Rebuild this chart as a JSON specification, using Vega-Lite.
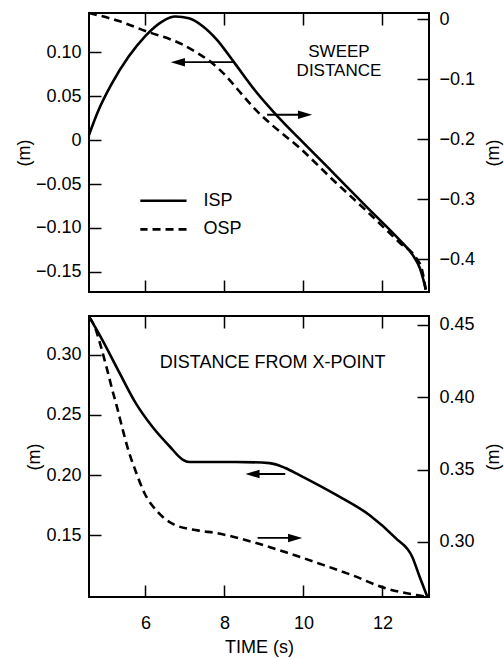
{
  "$schema": "https://vega.github.io/schema/vega-lite/v6.json",
  "background": "white",
  "padding": {"left": 14, "top": 6, "right": 4, "bottom": 1},
  "config": {
    "font": "Liberation Sans",
    "view": {"stroke": "black", "strokeWidth": 2},
    "axis": {
      "domain": false, "grid": false,
      "tickColor": "black", "tickWidth": 1.5, "tickSize": -12,
      "labelFont": "Liberation Sans", "labelFontSize": 18, "labelColor": "black",
      "titleFont": "Liberation Sans", "titleFontSize": 18, "titleFontWeight": "normal", "titleColor": "black"
    }
  },
  "datasets": {
    "top_isp": [
      {"series": "ISP", "t": 4.57, "v": 0.006}, {"series": "ISP", "t": 4.80, "v": 0.033}, {"series": "ISP", "t": 5.13, "v": 0.063},
      {"series": "ISP", "t": 5.57, "v": 0.095}, {"series": "ISP", "t": 6.00, "v": 0.119}, {"series": "ISP", "t": 6.41, "v": 0.135},
      {"series": "ISP", "t": 6.76, "v": 0.141}, {"series": "ISP", "t": 7.10, "v": 0.139}, {"series": "ISP", "t": 7.45, "v": 0.130},
      {"series": "ISP", "t": 7.80, "v": 0.115}, {"series": "ISP", "t": 8.24, "v": 0.089}, {"series": "ISP", "t": 8.77, "v": 0.057},
      {"series": "ISP", "t": 9.31, "v": 0.029}, {"series": "ISP", "t": 9.89, "v": 0.002}, {"series": "ISP", "t": 10.73, "v": -0.036},
      {"series": "ISP", "t": 11.60, "v": -0.076}, {"series": "ISP", "t": 12.44, "v": -0.114}, {"series": "ISP", "t": 12.77, "v": -0.131},
      {"series": "ISP", "t": 12.95, "v": -0.146}, {"series": "ISP", "t": 13.10, "v": -0.170}
    ],
    "top_osp": [
      {"series": "OSP", "t": 4.57, "v": 0.010}, {"series": "OSP", "t": 5.31, "v": -0.003}, {"series": "OSP", "t": 6.00, "v": -0.020},
      {"series": "OSP", "t": 6.92, "v": -0.042}, {"series": "OSP", "t": 7.35, "v": -0.058}, {"series": "OSP", "t": 7.68, "v": -0.073},
      {"series": "OSP", "t": 8.04, "v": -0.095}, {"series": "OSP", "t": 8.37, "v": -0.120}, {"series": "OSP", "t": 8.80, "v": -0.152},
      {"series": "OSP", "t": 9.21, "v": -0.177}, {"series": "OSP", "t": 9.89, "v": -0.214}, {"series": "OSP", "t": 10.73, "v": -0.267},
      {"series": "OSP", "t": 11.60, "v": -0.320}, {"series": "OSP", "t": 12.44, "v": -0.373}, {"series": "OSP", "t": 12.87, "v": -0.400},
      {"series": "OSP", "t": 13.00, "v": -0.417}, {"series": "OSP", "t": 13.10, "v": -0.453}
    ],
    "bot_isp": [
      {"series": "ISP", "t": 4.58, "v": 0.331}, {"series": "ISP", "t": 4.91, "v": 0.312}, {"series": "ISP", "t": 5.34, "v": 0.285},
      {"series": "ISP", "t": 5.75, "v": 0.260}, {"series": "ISP", "t": 6.18, "v": 0.240}, {"series": "ISP", "t": 6.61, "v": 0.224},
      {"series": "ISP", "t": 6.94, "v": 0.213}, {"series": "ISP", "t": 7.11, "v": 0.211}, {"series": "ISP", "t": 8.28, "v": 0.211},
      {"series": "ISP", "t": 9.14, "v": 0.210}, {"series": "ISP", "t": 9.54, "v": 0.206}, {"series": "ISP", "t": 9.90, "v": 0.200},
      {"series": "ISP", "t": 10.81, "v": 0.184}, {"series": "ISP", "t": 11.67, "v": 0.167}, {"series": "ISP", "t": 12.33, "v": 0.148},
      {"series": "ISP", "t": 12.76, "v": 0.132}, {"series": "ISP", "t": 12.94, "v": 0.116}, {"series": "ISP", "t": 13.14, "v": 0.099}
    ],
    "bot_osp": [
      {"series": "OSP", "t": 4.58, "v": 0.455}, {"series": "OSP", "t": 4.71, "v": 0.449}, {"series": "OSP", "t": 4.86, "v": 0.436},
      {"series": "OSP", "t": 5.01, "v": 0.421}, {"series": "OSP", "t": 5.16, "v": 0.405}, {"series": "OSP", "t": 5.29, "v": 0.392},
      {"series": "OSP", "t": 5.42, "v": 0.378}, {"series": "OSP", "t": 5.57, "v": 0.363}, {"series": "OSP", "t": 5.75, "v": 0.349},
      {"series": "OSP", "t": 5.97, "v": 0.334}, {"series": "OSP", "t": 6.30, "v": 0.321}, {"series": "OSP", "t": 6.73, "v": 0.312},
      {"series": "OSP", "t": 7.32, "v": 0.308}, {"series": "OSP", "t": 7.82, "v": 0.306}, {"series": "OSP", "t": 8.71, "v": 0.300},
      {"series": "OSP", "t": 9.54, "v": 0.293}, {"series": "OSP", "t": 10.41, "v": 0.285}, {"series": "OSP", "t": 11.24, "v": 0.277},
      {"series": "OSP", "t": 12.08, "v": 0.268}, {"series": "OSP", "t": 12.94, "v": 0.263}, {"series": "OSP", "t": 13.16, "v": 0.262}
    ],
    "top_arrows": [
      {"t": 6.82, "t2": 8.24, "v": 0.089, "dir": "left"},
      {"t": 10.04, "t2": 9.08, "v": 0.029, "dir": "right"}
    ],
    "bot_arrows": [
      {"t": 8.71, "t2": 9.54, "v": 0.201, "dir": "left"},
      {"t": 9.79, "t2": 8.84, "v": 0.148, "dir": "right"}
    ],
    "top_text": [
      {"label": "SWEEP", "t": 10.9, "v": 0.1},
      {"label": "DISTANCE", "t": 10.9, "v": 0.079}
    ],
    "bot_text": [
      {"label": "DISTANCE FROM X-POINT", "t": 9.22, "v": 0.2934}
    ],
    "legend": [
      {"series": "ISP", "t": 7.04, "t2": 5.87, "v": -0.069},
      {"series": "OSP", "t": 7.04, "t2": 5.87, "v": -0.1016}
    ]
  },
  "spacing": 14,
  "vconcat": [
    {
      "width": 340,
      "height": 279,
      "resolve": {"scale": {"y": "independent"}, "axis": {"x": "independent"}},
      "layer": [
        {
          "encoding": {
            "x": {"field": "t", "type": "quantitative", "scale": {"domain": [4.57, 13.18], "nice": false, "zero": false},
                  "axis": {"orient": "bottom", "values": [6, 8, 10, 12], "labels": false, "title": null}},
            "y": {"field": "v", "type": "quantitative", "scale": {"domain": [-0.173, 0.145], "nice": false, "zero": false},
                  "axis": {"orient": "left", "values": [-0.15, -0.1, -0.05, 0, 0.05, 0.1], "labelExpr": "datum.value == 0 ? '0' : format(datum.value, '.2f')", "labelPadding": 20, "title": "(m)", "titlePadding": 2}}
          },
          "layer": [
            {"data": {"name": "top_isp"}, "mark": {"type": "line", "color": "black", "strokeWidth": 2.6, "interpolate": "monotone"}},
            {"data": {"name": "legend"}, "mark": {"type": "rule", "color": "black", "strokeWidth": 2.6},
             "encoding": {"x2": {"field": "t2"},
                          "strokeDash": {"field": "series", "type": "nominal", "scale": {"domain": ["ISP", "OSP"], "range": [[1, 0], [8, 5]]}, "legend": null}}},
            {"data": {"name": "legend"}, "mark": {"type": "text", "align": "left", "baseline": "middle", "fontSize": 18, "dx": 17, "color": "black"},
             "encoding": {"text": {"field": "series"}}},
            {"data": {"name": "top_arrows"}, "mark": {"type": "rule", "color": "black", "strokeWidth": 1.8},
             "encoding": {"x2": {"field": "t2"}}},
            {"data": {"name": "top_arrows"}, "mark": {"type": "point", "filled": true, "opacity": 1, "color": "black", "strokeWidth": 0, "size": 200},
             "encoding": {"shape": {"field": "dir", "type": "nominal", "scale": {"domain": ["left", "right"], "range": ["M-1,0L1,-0.6L1,0.6Z", "M1,0L-1,-0.6L-1,0.6Z"]}, "legend": null}}},
            {"data": {"name": "top_text"}, "mark": {"type": "text", "align": "center", "baseline": "middle", "fontSize": 17, "color": "black"},
             "encoding": {"text": {"field": "label"}}}
          ]
        },
        {
          "data": {"name": "top_osp"},
          "mark": {"type": "line", "color": "black", "strokeWidth": 2.6, "strokeDash": [8, 5], "interpolate": "monotone"},
          "encoding": {
            "x": {"field": "t", "type": "quantitative", "scale": {"domain": [4.57, 13.18], "nice": false, "zero": false},
                  "axis": {"orient": "top", "values": [6, 8, 10, 12], "labels": false, "title": null}},
            "y": {"field": "v", "type": "quantitative", "scale": {"domain": [-0.455, 0.01], "nice": false, "zero": false},
                  "axis": {"orient": "right", "values": [-0.4, -0.3, -0.2, -0.1, 0], "labelExpr": "datum.value == 0 ? '0' : format(datum.value, '.1f')", "labelPadding": 22, "title": "(m)", "titleAngle": 270, "titleBaseline": "top", "titlePadding": 10}}
          }
        }
      ]
    },
    {
      "width": 340,
      "height": 281,
      "resolve": {"scale": {"y": "independent"}, "axis": {"x": "independent"}},
      "layer": [
        {
          "encoding": {
            "x": {"field": "t", "type": "quantitative", "scale": {"domain": [4.57, 13.18], "nice": false, "zero": false},
                  "axis": {"orient": "bottom", "values": [6, 8, 10, 12], "format": "d", "labelPadding": 29, "title": "TIME (s)", "titlePadding": 6}},
            "y": {"field": "v", "type": "quantitative", "scale": {"domain": [0.099, 0.332], "nice": false, "zero": false},
                  "axis": {"orient": "left", "values": [0.15, 0.2, 0.25, 0.3], "format": ".2f", "labelPadding": 20, "title": "(m)", "titlePadding": 2}}
          },
          "layer": [
            {"data": {"name": "bot_isp"}, "mark": {"type": "line", "color": "black", "strokeWidth": 2.6, "interpolate": "monotone"}},
            {"data": {"name": "bot_arrows"}, "mark": {"type": "rule", "color": "black", "strokeWidth": 1.8},
             "encoding": {"x2": {"field": "t2"}}},
            {"data": {"name": "bot_arrows"}, "mark": {"type": "point", "filled": true, "opacity": 1, "color": "black", "strokeWidth": 0, "size": 200},
             "encoding": {"shape": {"field": "dir", "type": "nominal", "scale": {"domain": ["left", "right"], "range": ["M-1,0L1,-0.6L1,0.6Z", "M1,0L-1,-0.6L-1,0.6Z"]}, "legend": null}}},
            {"data": {"name": "bot_text"}, "mark": {"type": "text", "align": "center", "baseline": "middle", "fontSize": 18, "color": "black"},
             "encoding": {"text": {"field": "label"}}}
          ]
        },
        {
          "data": {"name": "bot_osp"},
          "mark": {"type": "line", "color": "black", "strokeWidth": 2.6, "strokeDash": [8, 5], "interpolate": "monotone"},
          "encoding": {
            "x": {"field": "t", "type": "quantitative", "scale": {"domain": [4.57, 13.18], "nice": false, "zero": false},
                  "axis": {"orient": "top", "values": [6, 8, 10, 12], "labels": false, "title": null}},
            "y": {"field": "v", "type": "quantitative", "scale": {"domain": [0.262, 0.456], "nice": false, "zero": false},
                  "axis": {"orient": "right", "values": [0.3, 0.35, 0.4, 0.45], "format": ".2f", "labelPadding": 22, "title": "(m)", "titleAngle": 270, "titleBaseline": "top", "titlePadding": 10}}
          }
        }
      ]
    }
  ]
}
